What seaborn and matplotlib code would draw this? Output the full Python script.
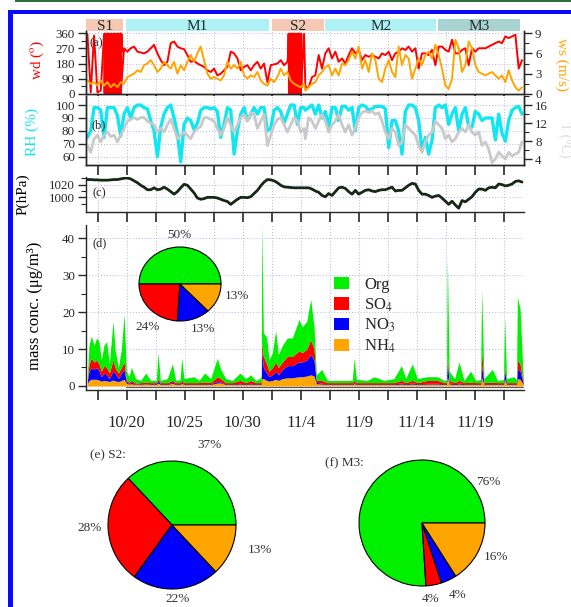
import numpy as np
import matplotlib
matplotlib.use("Agg")
import matplotlib.pyplot as plt
import seaborn as sns
from matplotlib.patches import Rectangle, Patch
from matplotlib.ticker import MultipleLocator, FixedLocator

sns.set_style("ticks")
plt.rcParams["font.family"] = ["Liberation Serif", "DejaVu Serif"]
plt.rcParams["mathtext.fontset"] = "stix"
plt.rcParams["axes.linewidth"] = 1.0

# ---------------- data ----------------
# time axis: day counted from 1 Oct (32 = 1 Nov)
met_days = np.concatenate([np.linspace(16.61, 35.29, 66), np.linspace(35.40, 54.08, 66)])

wd = [355, 10, 345, 10, 20, 350, 5, 355, 5, 355, 5, 270, 250, 270, 280, 250, 245, 240, 250, 270,
      290, 240, 200, 170, 190, 300, 310, 280, 270, 265, 230, 190, 195, 180, 170, 160, 140, 130, 150, 110,
      120, 140, 160, 250, 240, 210, 140, 160, 170, 140, 170, 190, 150, 180, 70, 170, 175, 180, 200, 170,
      190, 355, 5, 355, 5, 355,
      40, 40, 100, 110, 230, 150, 240, 270, 210, 250, 190, 210, 180, 230, 270, 240, 260, 200, 230, 220,
      230, 220, 210, 240, 230, 250, 200, 240, 250, 270, 260, 280, 250, 270, 150, 240, 240, 230, 260, 170,
      280, 280, 260, 250, 320, 240, 240, 260, 270, 170, 270, 250, 270, 270, 270, 280, 290, 300, 310, 300,
      340, 330, 340, 350, 150, 200]

# northerly-wind episodes where wd flips between ~0 and ~360 (hourly)
wd_s1_days = [18.04, 18.08, 18.12, 18.16, 18.20, 18.24, 18.28, 18.32, 18.36, 18.40, 18.44, 18.48, 18.52,
              18.56, 18.60, 18.64, 18.68, 18.72, 18.76, 18.80, 18.84, 18.88, 18.92, 18.96, 19.00, 19.04,
              19.08, 19.12, 19.16, 19.20, 19.24, 19.28, 19.32, 19.36, 19.40, 19.44, 19.48, 19.52, 19.56, 19.60]
wd_s1 = [355, 5, 358, 3, 352, 8, 356, 2, 359, 6, 354, 4, 357, 1, 355, 7, 358, 3, 353, 5,
         356, 2, 359, 6, 354, 4, 357, 1, 355, 7, 358, 3, 353, 5, 356, 2, 359, 6, 354, 250]
wd_s2_days = [33.90, 33.94, 33.98, 34.02, 34.06, 34.10, 34.14, 34.18, 34.22, 34.26, 34.30, 34.34, 34.38,
              34.42, 34.46, 34.50, 34.54, 34.58, 34.62, 34.66, 34.70, 34.74, 34.78, 34.82, 34.86, 34.90,
              34.94, 34.98, 35.02, 35.06, 35.10]
wd_s2 = [190, 355, 5, 358, 3, 352, 8, 356, 2, 359, 6, 354, 4, 357, 1, 355, 7, 358, 3, 353,
         5, 356, 2, 359, 6, 354, 4, 357, 1, 355, 40]

ws = [2.0, 1.5, 1.75, 1.25, 2.0, 1.25, 1.75, 1.0, 1.5, 1.0, 1.75, 1.5, 2.5, 2.75, 3.0, 3.5, 3.25, 4.25, 4.5, 5.0,
      4.25, 3.25, 3.75, 4.75, 4.25, 3.75, 4.75, 3.0, 4.25, 3.5, 4.75, 5.75, 4.75, 6.0, 7.0, 5.0, 3.0, 2.25, 2.5, 2.25,
      2.0, 2.75, 4.75, 3.75, 4.25, 3.75, 4.75, 2.75, 2.25, 2.75, 2.5, 3.25, 2.0, 1.5, 1.25, 2.25, 1.75, 2.5, 3.75, 2.75,
      3.25, 2.0, 1.5, 1.25, 1.0, 1.5,
      0.5, 1.0, 1.5, 1.75, 2.75, 3.25, 4.0, 4.25, 2.75, 3.75, 2.75, 4.5, 4.25, 5.0, 6.25, 5.25, 7.0, 3.75, 5.0, 3.25,
      6.0, 5.0, 2.25, 1.75, 3.75, 5.0, 3.25, 2.5, 7.0, 4.25, 5.75, 5.25, 2.25, 3.75, 5.25, 4.25, 5.75, 6.25, 5.25, 7.25,
      5.75, 3.75, 1.25, 0.75, 2.25, 8.0, 6.75, 3.25, 4.25, 7.75, 6.75, 4.25, 3.25, 3.0, 2.75, 3.0, 3.25, 2.75, 2.25, 2.75,
      1.75, 3.5, 2.0, 1.0, 0.5, 1.0]

rh = [75, 80, 98, 98, 96, 75, 98, 98, 98, 92, 76, 93, 98, 90, 98, 100, 100, 98, 97, 88,
      80, 60, 83, 93, 98, 100, 90, 78, 56, 85, 90, 88, 81, 86, 96, 98, 98, 97, 98, 95,
      75, 85, 98, 96, 62, 80, 93, 98, 88, 93, 98, 93, 98, 98, 80, 82, 96, 98, 95, 86,
      93, 100, 100, 85, 98, 98,
      96, 98, 100, 93, 100, 90, 95, 83, 98, 98, 88, 99, 99, 96, 98, 80, 98, 100, 99, 96,
      97, 99, 99, 99, 97, 67, 88, 88, 80, 62, 95, 100, 100, 98, 88, 65, 75, 62, 73, 98,
      100, 98, 100, 85, 93, 98, 80, 93, 98, 83, 83, 95, 93, 88, 90, 90, 90, 73, 93, 78,
      72, 88, 96, 98, 99, 93]

temp = [7.0, 5.5, 8.5, 9.3, 7.8, 9.3, 10.0, 9.0, 9.3, 7.8, 9.3, 10.8, 12.4, 12.8, 13.2, 12.8, 13.2, 13.2, 12.4, 12.0,
        11.6, 10.0, 10.8, 10.0, 11.6, 12.8, 10.8, 8.5, 9.3, 10.0, 9.3, 8.5, 10.0, 10.8, 11.2, 13.2, 13.2, 12.8, 12.4, 10.8,
        9.3, 10.8, 13.2, 11.6, 10.0, 11.6, 13.2, 13.9, 12.4, 14.3, 13.9, 10.8, 12.4, 13.9, 7.0, 9.3, 11.6, 12.8, 13.2, 11.6,
        10.0, 11.6, 13.2, 12.4, 10.0, 10.8,
        8.5, 13.2, 12.4, 10.8, 12.4, 13.9, 12.4, 10.0, 11.6, 12.4, 13.9, 11.6, 10.0, 11.6, 9.3, 10.8, 13.2, 14.3, 14.7, 14.3,
        14.7, 13.9, 14.3, 12.4, 10.0, 8.5, 10.8, 10.0, 7.0, 7.8, 11.6, 10.8, 10.0, 9.3, 7.0, 5.5, 7.8, 9.3, 10.0, 12.4,
        11.6, 10.8, 8.5, 9.3, 7.8, 8.5, 10.0, 10.8, 10.0, 11.6, 10.0, 9.3, 10.0, 7.0, 7.8, 6.2, 3.2, 4.0, 5.5, 4.7,
        4.0, 5.5, 4.7, 5.1, 5.5, 7.8]

pres = [1028, 1028, 1027.5, 1027.5, 1027, 1027, 1027, 1027.5, 1028, 1028, 1029, 1030, 1030.5, 1029, 1026, 1023, 1019, 1016, 1012, 1012,
        1015, 1012, 1013, 1016, 1013, 1009, 1005, 1009, 1015, 1020.5, 1019, 1013, 1007, 999, 997, 998, 1000, 1000, 1000, 999,
        997, 995, 993.5, 989, 993, 997, 1000, 1000, 999.5, 1001, 1006, 1011, 1018, 1024, 1028, 1027.5, 1026, 1023, 1019, 1016.5,
        1016, 1015.5, 1015, 1015, 1015, 1015,
        1015, 1015, 1013, 1010, 1008, 1003, 1001, 1006, 1003, 1009, 1015, 1016, 1014, 1009, 1005, 1011, 1005, 1008, 1011, 1012,
        1010, 1009, 1011, 1012, 1012, 1014, 1016, 1010, 1011, 1011, 1015, 1019, 1022, 1021, 1011, 1005, 1005, 1003, 1000, 1002,
        1003, 999, 994, 989, 994, 988, 983, 995, 993, 997, 1001, 1008, 1013, 1013, 1011, 1015, 1016, 1015, 1021, 1020,
        1018, 1019, 1021, 1025, 1026, 1024]

pm_days = [16.61, 16.75, 16.95, 17.18, 17.41, 17.61, 17.81, 18.04, 18.27, 18.50, 18.82, 18.99, 19.28, 19.54, 19.77,
           19.97, 20.20, 20.40, 20.77, 21.21, 21.64, 22.07, 22.55, 22.70, 22.90, 23.50, 23.94, 24.22, 24.60, 24.74,
           24.94, 25.80, 26.23, 26.72, 27.24, 27.81, 28.10, 28.53, 29.11, 29.77, 30.26, 30.69, 31.12, 31.46, 31.60,
           31.64, 31.78, 32.07, 32.27, 32.56, 32.84, 33.07, 33.42, 33.85, 34.28, 34.85, 35.14, 35.52, 35.86, 36.15,
           36.35, 36.81, 37.30, 38.16, 39.02, 39.45, 39.60, 39.80, 40.74, 41.32, 42.18, 43.04, 43.68, 44.05, 44.62,
           45.06, 45.92, 46.78, 47.36, 47.56, 47.64, 47.80, 48.27, 48.65, 49.08, 49.65, 50.08, 50.50, 50.60, 50.80,
           51.52, 51.95, 52.48, 52.58, 52.75, 53.39, 53.60, 53.68, 53.91, 54.19]
org = [1.0, 5.0, 6.0, 4.5, 6.0, 6.0, 3.0, 5.5, 7.0, 2.5, 10.5, 5.0, 1.5, 5.0, 13.0,
       2.5, 1.5, 3.5, 1.2, 0.6, 2.5, 0.6, 0.6, 7.0, 0.6, 1.1, 4.5, 0.6, 0.8, 6.0,
       1.1, 1.6, 0.6, 2.4, 1.1, 5.0, 2.5, 1.1, 0.6, 2.0, 1.1, 1.5, 0.6, 1.1, 1.5,
       32.0, 6.5, 7.0, 3.0, 4.0, 8.5, 3.5, 4.5, 5.0, 5.0, 8.5, 7.0, 7.5, 11.0, 6.0,
       1.5, 3.0, 0.6, 0.6, 0.6, 0.6, 6.0, 0.9, 0.6, 1.6, 0.6, 1.1, 4.0, 1.1, 4.5,
       1.1, 1.0, 1.0, 0.6, 0.8, 26.0, 2.5, 1.1, 5.0, 0.6, 3.0, 0.6, 0.8, 16.5, 1.1,
       3.5, 0.6, 0.8, 13.5, 1.1, 1.6, 0.8, 17.0, 15.0, 0.6]
so4 = [0.5, 2.0, 2.5, 2.0, 2.0, 2.0, 1.5, 2.0, 2.0, 1.5, 3.0, 1.5, 1.5, 1.5, 2.0,
       0.5, 0.4, 0.5, 0.3, 0.3, 0.4, 0.3, 0.3, 0.5, 0.3, 0.3, 0.5, 0.3, 0.3, 0.5,
       0.3, 0.3, 0.3, 0.5, 0.3, 1.3, 1.0, 0.3, 0.3, 0.8, 0.3, 0.8, 0.3, 0.3, 0.5,
       2.5, 3.0, 2.5, 1.5, 2.0, 2.5, 2.0, 2.0, 2.5, 2.5, 3.0, 2.5, 3.0, 4.0, 3.0,
       0.5, 0.8, 0.3, 0.3, 0.3, 0.3, 0.6, 0.3, 0.3, 0.3, 0.3, 0.3, 0.7, 0.3, 0.7,
       0.3, 0.8, 0.8, 0.3, 0.3, 2.0, 0.7, 0.3, 0.7, 0.3, 0.4, 0.3, 0.3, 4.0, 0.3,
       0.4, 0.3, 0.3, 1.0, 0.3, 0.3, 0.3, 2.5, 2.0, 0.3]
no3 = [0.7, 2.5, 3.2, 2.7, 3.2, 2.4, 1.2, 2.0, 1.6, 0.8, 2.4, 2.1, 0.8, 2.0, 2.7,
       0.3, 0.1, 0.4, 0.1, 0.2, 0.1, 0.2, 0.2, 0.7, 0.2, 0.2, 0.3, 0.2, 0.2, 0.3,
       0.2, 0.2, 0.2, 0.2, 0.2, 0.4, 0.2, 0.2, 0.2, 0.2, 0.2, 0.2, 0.2, 0.2, 0.3,
       7.5, 3.0, 2.0, 1.2, 1.5, 2.2, 1.5, 2.5, 3.3, 3.3, 4.0, 4.0, 4.3, 5.5, 4.3,
       0.4, 0.2, 0.2, 0.2, 0.2, 0.2, 0.3, 0.2, 0.2, 0.2, 0.2, 0.2, 0.3, 0.2, 0.3,
       0.2, 0.2, 0.2, 0.2, 0.2, 4.0, 0.3, 0.2, 0.3, 0.2, 0.2, 0.2, 0.2, 3.2, 0.2,
       0.2, 0.2, 0.2, 2.2, 0.2, 0.2, 0.2, 2.5, 2.2, 0.2]
nh4 = [0.8, 1.5, 1.8, 1.8, 1.8, 1.6, 1.3, 1.5, 1.4, 1.2, 1.6, 1.4, 1.2, 1.5, 1.8,
       0.7, 0.5, 0.6, 0.4, 0.4, 0.5, 0.4, 0.4, 0.8, 0.4, 0.4, 0.7, 0.4, 0.4, 0.7,
       0.4, 0.4, 0.4, 0.4, 0.4, 0.8, 0.8, 0.4, 0.4, 0.5, 0.4, 0.5, 0.4, 0.4, 0.5,
       2.0, 2.0, 1.5, 1.3, 1.5, 1.8, 1.5, 2.0, 2.2, 2.2, 2.5, 2.5, 2.7, 3.0, 2.7,
       0.6, 0.5, 0.4, 0.4, 0.4, 0.4, 0.6, 0.4, 0.4, 0.4, 0.4, 0.4, 0.5, 0.4, 0.5,
       0.4, 0.5, 0.5, 0.4, 0.4, 2.5, 0.5, 0.4, 0.5, 0.4, 0.4, 0.4, 0.4, 2.3, 0.4,
       0.4, 0.4, 0.4, 1.8, 0.4, 0.4, 0.4, 2.0, 1.8, 0.4]
base_days = [19.9, 54.2]
base_vals = [-0.35, -0.35]

species = ["Org", "SO$_4$", "NO$_3$", "NH$_4$"]
pie_all = [50, 24, 13, 13]
pie_s2 = [37, 28, 22, 13]
pie_m3 = [76, 4, 4, 16]

periods = ["S1", "M1", "S2", "M2", "M3"]
period_start = [16.49, 19.9, 32.5, 37.1, 46.8]
period_end = [19.7, 32.3, 37.0, 46.7, 53.9]

tick_days = [20, 25, 30, 35, 40, 45, 50]
tick_labels = ["10/20", "10/25", "10/30", "11/4", "11/9", "11/14", "11/19"]

# ---------------- styling ----------------
C_ORG, C_SO4, C_NO3, C_NH4 = "#00f000", "#ff0000", "#0000ff", "#ffa500"
period_colors = ["#f6c7b3", "#aef2f5", "#f6c7b3", "#aef2f5", "#a9d3d1"]
YTICK_FS = 9.3

W, H = 571, 607
fig = plt.figure(figsize=(W / 100, H / 100), dpi=100)


def box(x0, y0, x1, y1):
    return [x0 / W, 1 - y1 / H, (x1 - x0) / W, (y1 - y0) / H]


XL, XR = 86, 524
XLIM = (16.49, 54.25)
xt_major = np.arange(17.5, 54.0, 2.5)


def style_time_axis(ax, show_labels=False):
    ax.set_xlim(*XLIM)
    ax.set_xticks(xt_major)
    if show_labels:
        ax.set_xticklabels([tick_labels[tick_days.index(int(t))] if t in tick_days else "" for t in xt_major])
    else:
        ax.set_xticklabels([])
    ax.tick_params(axis="x", direction="out", length=7, width=1.2, pad=11, labelsize=12)
    ax.tick_params(axis="y", which="major", direction="out", length=6, width=1, pad=2, labelsize=YTICK_FS)
    ax.tick_params(axis="y", which="minor", direction="out", length=3.5, width=0.8)
    ax.spines["top"].set_visible(False)
    ax.grid(True, which="major", ls=(0, (1, 2)), color="#b4b4e6", lw=0.7)
    ax.set_xlabel("")
    ax.set_ylabel("")


def style_right(ax):
    ax.tick_params(axis="y", which="major", direction="out", length=6, width=1, pad=2, labelsize=YTICK_FS)
    ax.tick_params(axis="y", which="minor", direction="out", length=3.5, width=0.8)
    ax.spines["top"].set_visible(False)
    ax.set_ylabel("")
    ax.set_xlabel("")


# period bar
ax_bar = fig.add_axes(box(XL, 19, XR, 32))
ax_bar.set_xlim(*XLIM)
ax_bar.set_ylim(0, 1)
ax_bar.axis("off")
for name, s, e, c in zip(periods, period_start, period_end, period_colors):
    ax_bar.axvspan(s, e, color=c, lw=0)
    ax_bar.text((s + e) / 2, 0.42, name, ha="center", va="center", fontsize=11, color="#1e2e2e")

# (a) wind
ax_a = fig.add_axes(box(XL, 31, XR, 94))
sns.lineplot(x=met_days, y=wd, ax=ax_a, color="#ff0000", lw=1.4, estimator=None, sort=False)
sns.lineplot(x=wd_s1_days, y=wd_s1, ax=ax_a, color="#ff0000", lw=1.2, estimator=None, sort=False)
sns.lineplot(x=wd_s2_days, y=wd_s2, ax=ax_a, color="#ff0000", lw=1.2, estimator=None, sort=False)
style_time_axis(ax_a)
ax_a.set_ylim(0, 372)
ax_a.yaxis.set_major_locator(FixedLocator([0, 90, 180, 270, 360]))
ax_a.yaxis.set_minor_locator(MultipleLocator(45))
ax_a2 = ax_a.twinx()
sns.lineplot(x=met_days, y=ws, ax=ax_a2, color="#ffa500", lw=1.4, estimator=None, sort=False)
ax_a2.set_ylim(0, 9.3)
ax_a2.yaxis.set_major_locator(FixedLocator([0, 3, 6, 9]))
ax_a2.yaxis.set_minor_locator(MultipleLocator(1.5))
style_right(ax_a2)
ax_a.text(0.009, 0.81, "(a)", transform=ax_a.transAxes, fontsize=9, va="center", ha="left")

# (b) RH and T
ax_b = fig.add_axes(box(XL, 96, XR, 165))
sns.lineplot(x=met_days, y=rh, ax=ax_b, color="#12e6f0", lw=2.4, estimator=None, sort=False)
style_time_axis(ax_b)
ax_b.set_ylim(53.6, 107)
ax_b.yaxis.set_major_locator(FixedLocator([60, 70, 80, 90, 100]))
ax_b2 = ax_b.twinx()
sns.lineplot(x=met_days, y=temp, ax=ax_b2, color="#c9c9c9", lw=2.0, estimator=None, sort=False)
ax_b2.set_ylim(2.67, 18)
ax_b2.yaxis.set_major_locator(FixedLocator([4, 8, 12, 16]))
ax_b2.yaxis.set_minor_locator(MultipleLocator(2))
style_right(ax_b2)
ax_b.text(0.012, 0.57, "(b)", transform=ax_b.transAxes, fontsize=9, va="center", ha="left")

# (c) pressure
ax_c = fig.add_axes(box(XL, 177, XR, 212))
sns.lineplot(x=met_days, y=pres, ax=ax_c, color="#142814", lw=2.0, estimator=None, sort=False)
style_time_axis(ax_c)
ax_c.spines["right"].set_visible(False)
ax_c.set_ylim(977, 1032)
ax_c.yaxis.set_major_locator(FixedLocator([1000, 1020]))
ax_c.yaxis.set_minor_locator(FixedLocator([990, 1010, 1030]))
ax_c.text(0.014, 0.54, "(c)", transform=ax_c.transAxes, fontsize=9, va="center", ha="left")

# (d) mass concentrations
ax_d = fig.add_axes(box(XL, 225, XR, 390))
ax_d.stackplot(pm_days, nh4, no3, so4, org, colors=[C_NH4, C_NO3, C_SO4, C_ORG], lw=0)
sns.lineplot(x=base_days, y=base_vals, ax=ax_d, color="#555555", lw=0.8, estimator=None, sort=False)
style_time_axis(ax_d, show_labels=True)
ax_d.spines["right"].set_visible(False)
ax_d.set_ylim(-1.1, 43.6)
ax_d.yaxis.set_major_locator(FixedLocator([0, 10, 20, 30, 40]))
ax_d.yaxis.set_minor_locator(MultipleLocator(5))
ax_d.text(0.014, 0.89, "(d)", transform=ax_d.transAxes, fontsize=9, va="center", ha="left")

handles = [Patch(facecolor=c, edgecolor="none") for c in [C_ORG, C_SO4, C_NO3, C_NH4]]
fig.legend(handles, species, loc="upper left", bbox_to_anchor=(334 / W, 1 - 277 / H),
           frameon=False, fontsize=12, handlelength=0.9, handleheight=0.75, handletextpad=0.9,
           labelspacing=0.2, borderpad=0, borderaxespad=0)

# axis labels
fig.text(37 / W, 1 - 60 / H, "wd ($^{\\mathrm{o}}$)", rotation=90, color="#ff0000", fontsize=11, ha="center", va="center")
fig.text(562 / W, 1 - 65 / H, "ws (m/s)", rotation=270, color="#ffa500", fontsize=11, ha="center", va="center")
fig.text(32 / W, 1 - 132 / H, "RH (%)", rotation=90, color="#12e6f0", fontsize=11, ha="center", va="center")
fig.text(565 / W, 1 - 140 / H, "T (°C)", rotation=270, color="#dadada", fontsize=10, ha="center", va="center")
fig.text(23 / W, 1 - 194 / H, "P(hPa)", rotation=90, color="black", fontsize=11, ha="center", va="center")
fig.text(35 / W, 1 - 306 / H, "mass conc. (μg/m³)", rotation=90, color="black", fontsize=12, ha="center", va="center")


# pies
def draw_pie(cx, cy, rx, ry, vals, labels_pos):
    pad = 1.06
    ax = fig.add_axes(box(cx - rx * pad, cy - ry * pad, cx + rx * pad, cy + ry * pad))
    ax.pie(vals, colors=[C_ORG, C_SO4, C_NO3, C_NH4], startangle=0, counterclock=True,
           wedgeprops=dict(edgecolor="black", linewidth=0.8))
    ax.set_aspect("auto")
    ax.set_xlim(-pad, pad)
    ax.set_ylim(-pad, pad)
    ax.axis("off")
    for v, (tx, ty) in zip(vals, labels_pos):
        ax.text(tx, ty, f"{v}%", ha="center", va="center", fontsize=9.5, color="#333333", clip_on=False)
    return ax


draw_pie(180, 284, 41, 37, pie_all, [(-0.02, 1.32), (-0.79, -1.15), (0.55, -1.22), (1.40, -0.32)])
draw_pie(172, 525, 64, 64, pie_s2, [(0.59, 1.25), (-1.28, -0.05), (0.09, -1.16), (1.375, -0.39)])
draw_pie(422, 523, 63, 63, pie_m3, [(1.05, 0.65), (0.13, -1.2), (0.56, -1.15), (1.17, -0.54)])
fig.text(90 / W, 1 - 455 / H, "(e) S2:", fontsize=9.5, color="#333333", ha="left", va="center")
fig.text(325 / W, 1 - 463 / H, "(f) M3:", fontsize=9.5, color="#333333", ha="left", va="center")

# frame decoration
fig.add_artist(Rectangle((15 / W, 1 - 2 / H), (W - 15) / W, 2 / H, transform=fig.transFigure,
                         color="#2f6e3c", lw=0))
fig.add_artist(Rectangle((8 / W, 1 - 14 / H), (W - 8) / W, 4 / H, transform=fig.transFigure,
                         color="#0a0aff", lw=0))
fig.add_artist(Rectangle((8 / W, 0), 5 / W, 1 - 10 / H, transform=fig.transFigure,
                         color="#0a0aff", lw=0))

fig.savefig("out.png", dpi=100)
